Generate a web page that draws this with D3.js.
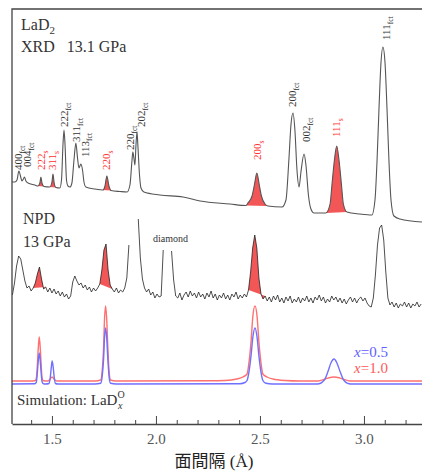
<!DOCTYPE html>
<html>
<head>
<meta charset="utf-8">
<script src="https://cdn.jsdelivr.net/npm/d3@7"></script>
<style>
  body { margin: 0; background: #fff; }
  text { font-family: "Liberation Serif", "Noto Sans CJK JP", serif; }
</style>
</head>
<body>
<script>
// d-spacing (A) vs intensity (arbitrary units, stacked traces)
const xrdTrace = [
  [1.308,242],[1.322,242],[1.332,244],[1.341,253],[1.351,246],[1.356,243],[1.363,245],[1.368,247],
  [1.375,243],[1.385,241],[1.418,239],[1.433,238],[1.442,241],[1.447,247],[1.452,241],[1.462,237.5],
  [1.490,237],[1.500,242],[1.505,250],[1.510,242],[1.519,236.5],[1.538,236],[1.546,244],[1.553,279],
  [1.558,294],[1.563,279],[1.570,244],[1.577,238],[1.587,237],[1.596,241],[1.606,264],[1.615,281],
  [1.623,266],[1.630,256],[1.639,260],[1.647,254],[1.654,242],[1.663,237],[1.707,235],[1.745,234],
  [1.755,238],[1.764,248],[1.774,238],[1.784,233.5],[1.827,232.5],[1.861,232],[1.875,239],[1.885,264],
  [1.889,272],[1.894,266],[1.899,259],[1.904,279],[1.909,292],[1.913,279],[1.921,249],[1.928,236],
  [1.942,232],[2.019,229],[2.130,227],[2.212,223],[2.356,220],[2.433,218.5],[2.442,221],[2.462,228],
  [2.474,240],[2.485,251],[2.496,240],[2.507,228],[2.524,220],[2.538,218],[2.606,217],[2.625,224],
  [2.639,264],[2.649,299],[2.659,311],[2.668,294],[2.678,254],[2.688,237],[2.697,252],[2.712,270],
  [2.721,259],[2.733,229],[2.745,215],[2.760,211],[2.817,211],[2.837,220],[2.846,239],[2.858,264],
  [2.869,278],[2.880,264],[2.892,239],[2.901,220],[2.918,212],[2.981,210],[3.038,209],[3.053,224],
  [3.063,264],[3.072,314],[3.082,362],[3.091,377],[3.101,362],[3.111,314],[3.120,264],[3.130,224],
  [3.144,208],[3.173,205],[3.279,202]
];
const xrdRedPeaks = [[1.433,1.462],[1.490,1.519],[1.745,1.784],[2.433,2.538],[2.817,2.918]];

const xrdLabels = [
  {hkl:"400", phase:"fct", d:1.341, h:254},
  {hkl:"004", phase:"fct", d:1.385, h:257},
  {hkl:"222", phase:"s",   d:1.452, h:254},
  {hkl:"311", phase:"s",   d:1.505, h:254},
  {hkl:"222", phase:"fct", d:1.563, h:297},
  {hkl:"311", phase:"fct", d:1.620, h:282},
  {hkl:"113", phase:"fct", d:1.663, h:267},
  {hkl:"220", phase:"s",   d:1.764, h:254},
  {hkl:"220", phase:"fct", d:1.880, h:274},
  {hkl:"202", phase:"fct", d:1.933, h:297},
  {hkl:"200", phase:"s",   d:2.490, h:264},
  {hkl:"200", phase:"fct", d:2.659, h:317},
  {hkl:"002", phase:"fct", d:2.726, h:282},
  {hkl:"111", phase:"s",   d:2.870, h:287},
  {hkl:"111", phase:"fct", d:3.111, h:384}
];

// NPD: constant step scan, the gaps are cut-out regions
const npdStep = 0.01;
const npdSegments = [
  {start:1.31, h:[129,141,158,168,165,154,143,136,138,133,136,141,150,157,145,135,137,132,136,131,
    135,130,133,128,132,127,130,125,128,142,148,143,139,141,136,139,134,137,132,136,133,136,140,154,
    174,180,154,139,135,132,136,131,134,132,136,146,179]},
  {start:1.915, h:[205,166,145,136,132,135,129,132,126,130,127,128,174]},
  {start:2.075, h:[173,144,128,126,131,124,129,132,127,133,128,131,126,132,127,130,125,131,127,133,
    126,130,124,129,126,131,125,129,124,130,127,132,125,129,126,130,127,134,152,176,189,176,146,130,
    125,128,123,127,122,128,124,129,122,126,121,127,123,128,121,125,122,127,121,126,123,128,122,126,
    121,127,124,129,123,127,121,125,122,128,124,127,122,126,121,125,120,124,127,122,126,121,125,127,
    123,126,121,118,117,126,149,179,196,199,184,152,126,119,122,117,121,116,120,118,122,117,121,116,
    120,118,122,117,120]}
];
const npdRedPeaks = [[1.41,1.47],[1.73,1.79],[2.445,2.525]];

// simulated patterns for LaDx
const simX05 = [
  [1.308,40],[1.418,40.2],[1.425,41.9],[1.429,49],[1.434,62.6],[1.439,71],[1.444,62.6],[1.449,49],
  [1.453,41.9],[1.459,40.2],[1.469,40],[1.486,40.5],[1.492,46.7],[1.497,56.8],[1.501,63],[1.506,56.8],
  [1.511,46.7],[1.517,40.5],[1.529,40],[1.707,40],[1.734,40.7],[1.741,46.7],[1.748,64],[1.753,87],
  [1.758,96],[1.763,87],[1.769,64],[1.775,46.7],[1.782,40.7],[1.808,40],[2.404,40.3],[2.428,41.5],
  [2.438,43.5],[2.447,51.8],[2.457,68],[2.466,87],[2.476,96],[2.486,87],[2.495,68],[2.505,51.8],
  [2.514,43.5],[2.529,40.7],[2.558,40],[2.769,40],[2.784,40.3],[2.798,41.6],[2.813,45.2],[2.827,52.5],
  [2.841,61],[2.856,65],[2.870,61],[2.885,52.5],[2.899,45.2],[2.913,41.6],[2.928,40.3],[2.942,40],
  [3.279,40]
];
const simX10 = [
  [1.308,43],[1.394,43],[1.418,43.3],[1.425,45.5],[1.429,56],[1.434,75],[1.439,87],[1.444,75],
  [1.449,56],[1.453,45.5],[1.459,43.3],[1.481,43],[1.490,44.5],[1.501,47],[1.512,44.5],[1.524,43],
  [1.707,43],[1.734,44],[1.741,52],[1.748,75],[1.753,106],[1.758,118],[1.763,106],[1.769,75],
  [1.775,52],[1.782,44],[1.808,43],[2.25,43.2],[2.332,43.5],[2.389,45],[2.418,47],[2.438,50],
  [2.447,61],[2.457,82],[2.466,108],[2.476,118],[2.486,108],[2.495,82],[2.505,61],[2.514,50],
  [2.534,47],[2.562,45],[2.620,43.5],[2.692,43],[2.779,43],[2.808,44.5],[2.832,46.3],[2.856,47],
  [2.880,46.3],[2.904,44.5],[2.933,43],[3.279,43]
];

const majorTicks = [1.5, 2.0, 2.5, 3.0];
const minorTicks = [1.4,1.6,1.7,1.8,1.9,2.1,2.2,2.3,2.4,2.6,2.7,2.8,2.9,3.1,3.2];

const W = 422, H = 471;
const svg = d3.select("body").append("svg")
  .attr("width", W)
  .attr("height", H);

const x = d3.scaleLinear().domain([1.308, 3.279]).range([12, 422]);
const y = d3.scaleLinear().domain([0, 415]).range([424, 9]);

const smooth = d3.line().x(d => x(d[0])).y(d => y(d[1])).curve(d3.curveMonotoneX);
const jagged = d3.line().x(d => x(d[0])).y(d => y(d[1]));
const red = "#f25656";

function piece(trace, lo, hi) {
  return trace.filter(p => p[0] >= lo - 1e-6 && p[0] <= hi + 1e-6);
}

// XRD
xrdRedPeaks.forEach(r => {
  svg.append("path")
    .attr("d", smooth(piece(xrdTrace, r[0], r[1])) + "Z")
    .attr("fill", red);
});
svg.append("path")
  .attr("d", smooth(xrdTrace))
  .attr("fill", "none")
  .attr("stroke", "#555")
  .attr("stroke-width", 1.1);

xrdLabels.forEach(l => {
  const t = svg.append("text")
    .attr("transform", `translate(${x(l.d)},${y(l.h)}) rotate(-90)`)
    .attr("fill", l.phase == "s" ? "#ff3030" : "#333")
    .style("font-size", "11px");
  t.append("tspan").attr("dy", "0.3em").text(l.hkl);
  t.append("tspan").attr("dy", 2.5).style("font-size", "7.5px").text(l.phase);
});

// NPD
const npdPts = npdSegments.map(s => s.h.map((v, i) => [+(s.start + i * npdStep).toFixed(3), v]));
const npdAll = npdPts.flat();
npdRedPeaks.forEach(r => {
  svg.append("path")
    .attr("d", jagged(piece(npdAll, r[0], r[1])) + "Z")
    .attr("fill", red);
});
npdPts.forEach(seg => {
  svg.append("path")
    .attr("d", jagged(seg))
    .attr("fill", "none")
    .attr("stroke", "#222")
    .attr("stroke-width", 0.8);
});

// simulation
svg.append("path")
  .attr("d", smooth(simX10))
  .attr("fill", "none")
  .attr("stroke", "#ff7070")
  .attr("stroke-width", 1.4);
svg.append("path")
  .attr("d", smooth(simX05))
  .attr("fill", "none")
  .attr("stroke", "#7070ff")
  .attr("stroke-width", 1.4);

// frame + axis
svg.append("path")
  .attr("d", "M12,424V9H422")
  .attr("fill", "none")
  .attr("stroke", "#444")
  .attr("stroke-width", 1.3);

const axis = svg.append("g")
  .attr("transform", "translate(0,424)")
  .call(d3.axisBottom(x).tickValues(majorTicks).tickSizeInner(-8).tickSizeOuter(0)
    .tickPadding(9).tickFormat(d3.format(".1f")));
axis.select(".domain").attr("stroke", "#444").attr("stroke-width", 1.3);
axis.selectAll(".tick line").attr("stroke", "#444");
axis.selectAll(".tick text")
  .attr("fill", "#555")
  .style("font-size", "15px")
  .style("font-family", "Liberation Serif, serif");

const minor = svg.append("g")
  .attr("transform", "translate(0,424)")
  .call(d3.axisBottom(x).tickValues(minorTicks).tickSizeInner(-4).tickSizeOuter(0).tickFormat(""));
minor.select(".domain").remove();
minor.selectAll(".tick line").attr("stroke", "#444");

svg.append("text")
  .attr("x", 214)
  .attr("y", 467)
  .attr("text-anchor", "middle")
  .attr("fill", "#222")
  .style("font-size", "17px")
  .text("面間隔 (Å)");

// annotations
const lad = svg.append("text").attr("x", 21).attr("y", 30).attr("fill", "#333").style("font-size", "16px");
lad.append("tspan").text("LaD");
lad.append("tspan").attr("dy", 4).style("font-size", "11px").text("2");

svg.append("text").attr("x", 21).attr("y", 52).attr("fill", "#333").style("font-size", "16px")
  .attr("xml:space", "preserve").text("XRD   13.1 GPa");

svg.append("text").attr("x", 23).attr("y", 224).attr("fill", "#333").style("font-size", "16px").text("NPD");
svg.append("text").attr("x", 23).attr("y", 247).attr("fill", "#333").style("font-size", "16px").text("13 GPa");
svg.append("text").attr("x", 153).attr("y", 242).attr("fill", "#333").style("font-size", "10px").text("diamond");

const sim = svg.append("text").attr("x", 17).attr("y", 405).attr("fill", "#333").style("font-size", "15px")
  .text("Simulation: LaD");
const sw = sim.node().getComputedTextLength();
svg.append("text").attr("x", 17 + sw + 0.5).attr("y", 409).attr("fill", "#333")
  .style("font-size", "10px").style("font-style", "italic").text("x");
svg.append("text").attr("x", 17 + sw).attr("y", 398).attr("fill", "#333")
  .style("font-size", "10px").text("O");

const k05 = svg.append("text").attr("x", 354).attr("y", 357).attr("fill", "#6060ff").style("font-size", "15px");
k05.append("tspan").style("font-style", "italic").text("x");
k05.append("tspan").text("=0.5");
const k10 = svg.append("text").attr("x", 354).attr("y", 373).attr("fill", "#ff5a5a").style("font-size", "15px");
k10.append("tspan").style("font-style", "italic").text("x");
k10.append("tspan").text("=1.0");
</script>
</body>
</html>
